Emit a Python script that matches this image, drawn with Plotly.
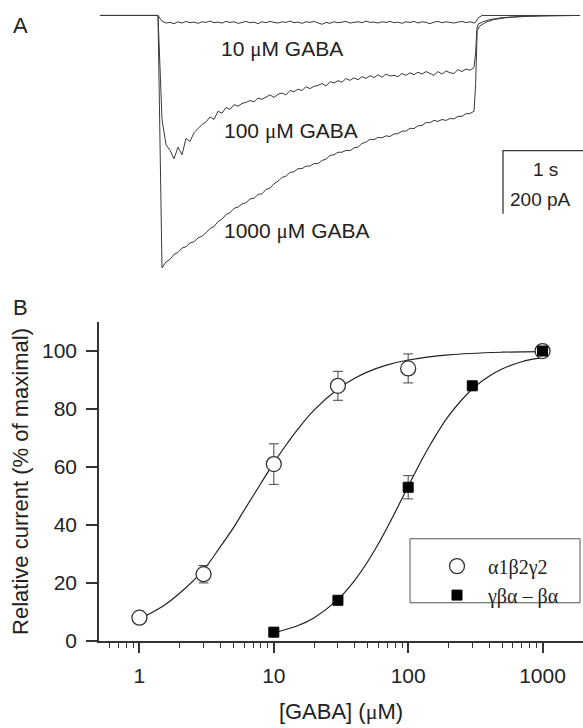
import plotly.graph_objects as go
import math

W, H = 583, 728

# ---------------- Panel A : current traces (time in s, current in pA) ----------------
dt = 0.05
pre_t = [-0.725, -0.45, -0.2]
pre_i = [0, 0, 0]

i10 = [0, -18, -24, -22, -26, -20, -24, -19, -23, -21, -25, -20, -22, -18, -23, -21, -24, -19, -22, -20,
       -25, -22, -19, -23, -21, -26, -20, -23, -19, -22, -24, -20, -22, -18, -23, -21, -25, -20, -22, -19,
       -24, -28, -22, -25, -20, -23, -21, -19, -24, -22, -20, -23, -18, -22, -21, -24, -20, -22, -19, -23,
       -21, -25, -20, -22, -19, -24, -20, -22, -26, -21, -19, -23, -20, -22, -24, -21, -19, -23, -20, -24]
i100 = [0, -330, -410, -428, -455, -418, -442, -390, -400, -372, -360, -346, -338, -322, -330, -304, -310, -292, -298, -283,
        -288, -279, -276, -270, -274, -262, -266, -258, -252, -260, -250, -246, -252, -238, -242, -234, -238, -226, -232, -225,
        -222, -216, -224, -210, -214, -207, -212, -200, -206, -198, -204, -194, -200, -191, -197, -188, -196, -186, -192, -190,
        -194, -184, -190, -182, -188, -180, -186, -178, -184, -190, -178, -186, -176, -182, -184, -172, -178, -170, -174, -165]
i1000 = [0, -801, -782, -774, -758, -752, -738, -734, -722, -718, -706, -700, -690, -676, -670, -654, -646, -632, -626, -612,
         -608, -598, -594, -582, -580, -568, -566, -552, -548, -534, -526, -514, -510, -498, -496, -486, -486, -478, -478, -470,
         -470, -460, -456, -444, -442, -434, -434, -428, -429, -420, -418, -406, -402, -393, -394, -387, -388, -382, -384, -376,
         -375, -367, -367, -358, -359, -350, -349, -340, -340, -333, -336, -330, -333, -327, -328, -320, -320, -312, -311, -304]

tail10_t = [3.97, 4.0, 4.05, 4.5, 5.0, 5.275]
tail10_i = [-22, -8, 0, 0, 1, 0]
tail100_t = [3.97, 3.985, 4.0, 4.06, 4.15, 4.3, 4.525, 4.775, 5.275]
tail100_i = [-120, -45, -28, -20, -13, -7, -3, -1, 0]
tail1000_t = [3.97, 3.99, 4.02, 4.1, 4.2, 4.35, 4.6, 4.9, 5.275]
tail1000_i = [-220, -48, -34, -21, -13, -7, -3, -1, 0]

trace_labels = ["10 μM GABA", "100 μM GABA", "1000 μM GABA"]
scale_time = 1.0      # s
scale_current = 200   # pA

# ---------------- Panel B : concentration-response ----------------
conc_a = [1, 3, 10, 30, 100, 1000]
resp_a = [8, 23, 61, 88, 94, 100]
err_a = [1, 3, 7, 5, 5, 1]
conc_b = [10, 30, 100, 300, 1000]
resp_b = [3, 14, 53, 88, 100]
err_b = [1, 1, 4, 1, 1]

fit_a_x = [1, 1.5, 2, 3, 4, 5, 6, 7, 8, 10, 12, 15, 20, 30, 40, 50, 70, 100, 200, 500, 1000]
fit_a_y = [7.5, 12, 16.5, 24.5, 32.5, 39, 45, 50, 54.3, 61.4, 66.8, 72.9, 79.7, 86.9, 90.6, 92.8, 95.2, 96.9, 98.7, 99.6, 99.8]
fit_b_x = [10, 15, 20, 30, 40, 50, 60, 70, 80, 100, 120, 150, 200, 300, 400, 500, 700, 1000]
fit_b_y = [2.8, 5.2, 8.0, 14.3, 20.9, 27.4, 33.5, 39.2, 44.4, 53.3, 60.5, 68.6, 77.6, 86.9, 91.3, 93.8, 96.3, 97.8]

name_a = "α1β2γ2"
name_b = "γβα – βα"
x_ticks = [1, 10, 100, 1000]
x_minor = [0.6, 0.7, 0.8, 0.9] + [k * 10 ** e for e in range(0, 3) for k in range(2, 10)]
y_ticks = [0, 20, 40, 60, 80, 100]

SANS = "Liberation Sans, Arial, sans-serif"
SERIF = "Liberation Serif, Times New Roman, serif"
TRACE_COL = "#3a3a3a"


def px2x(p):
    return p / W


def px2y(p):
    return 1 - p / H


fig = go.Figure()

# --- panel A traces
for vals, tt, ti in [(i10, tail10_t, tail10_i), (i100, tail100_t, tail100_i), (i1000, tail1000_t, tail1000_i)]:
    t = pre_t + [round(k * dt, 3) for k in range(len(vals))] + tt
    y = pre_i + vals + ti
    fig.add_trace(go.Scatter(x=t, y=y, mode="lines", line=dict(color=TRACE_COL, width=1),
                             xaxis="x2", yaxis="y2", showlegend=False, hoverinfo="skip"))

# scale bar
sb_x0 = 4.3125
sb_y0 = -429
fig.add_trace(go.Scatter(x=[sb_x0 + scale_time, sb_x0, sb_x0], y=[sb_y0, sb_y0, sb_y0 - scale_current],
                         mode="lines", line=dict(color=TRACE_COL, width=1.3),
                         xaxis="x2", yaxis="y2", showlegend=False, hoverinfo="skip"))

# --- panel B fits
fig.add_trace(go.Scatter(x=fit_a_x, y=fit_a_y, mode="lines", line=dict(color="#222", width=1.2, shape="spline"),
                         showlegend=False, hoverinfo="skip", cliponaxis=False))
fig.add_trace(go.Scatter(x=fit_b_x, y=fit_b_y, mode="lines", line=dict(color="#222", width=1.2, shape="spline"),
                         showlegend=False, hoverinfo="skip", cliponaxis=False))

# --- panel B points
fig.add_trace(go.Scatter(x=conc_a, y=resp_a, mode="markers", name=name_a,
                         error_y=dict(type="data", array=err_a, color="#444", thickness=1, width=5),
                         marker=dict(symbol="circle", size=15, color="white", line=dict(color="#333", width=1.3)),
                         cliponaxis=False))
fig.add_trace(go.Scatter(x=conc_b, y=resp_b, mode="markers", name=name_b,
                         error_y=dict(type="data", array=err_b, color="#444", thickness=1, width=5),
                         marker=dict(symbol="square", size=10, color="black", line=dict(color="black", width=1)),
                         cliponaxis=False))

annotations = []
# trace labels
for lab, ypix, xpix in zip(trace_labels, [50, 133, 235], [219, 222, 222]):
    annotations.append(dict(text=lab.replace("μ", "<span style='font-family:Liberation Serif'>μ</span>"),
                            x=px2x(xpix), y=px2y(ypix), xref="paper", yref="paper",
                            xanchor="left", yanchor="middle", showarrow=False,
                            font=dict(family=SANS, size=21, color="#222")))
annotations.append(dict(text="1 s", x=px2x(545), y=px2y(172), xref="paper", yref="paper",
                        xanchor="center", yanchor="middle", showarrow=False,
                        font=dict(family=SANS, size=19, color="#222")))
annotations.append(dict(text="200 pA", x=px2x(540), y=px2y(203), xref="paper", yref="paper",
                        xanchor="center", yanchor="middle", showarrow=False,
                        font=dict(family=SANS, size=19, color="#222")))
annotations.append(dict(text="A", x=px2x(20), y=px2y(26), xref="paper", yref="paper",
                        xanchor="center", yanchor="middle", showarrow=False,
                        font=dict(family=SANS, size=22, color="#222")))
annotations.append(dict(text="B", x=px2x(20), y=px2y(312), xref="paper", yref="paper",
                        xanchor="center", yanchor="middle", showarrow=False,
                        font=dict(family=SANS, size=22, color="#222")))

shapes = [dict(type="rect", xref="paper", yref="paper", x0=px2x(410), x1=px2x(580), y0=px2y(612), y1=px2y(547),
               line=dict(color="#555", width=1), fillcolor="rgba(0,0,0,0)", layer="above")]

fig.update_layout(
    width=W, height=H,
    margin=dict(l=0, r=0, t=0, b=0),
    paper_bgcolor="white", plot_bgcolor="white",
    font=dict(family=SANS, size=21, color="#222"),
    xaxis=dict(type="log", domain=[px2x(99), 1.0], range=[math.log10(0.5), math.log10(2000)],
               showline=True, linecolor="#333", linewidth=1.5, showgrid=False, zeroline=False,
               tickmode="array", tickvals=x_ticks, ticktext=[str(v) for v in x_ticks],
               ticks="outside", ticklen=10, tickwidth=1.5, tickcolor="#333",
               ticklabelstandoff=5,
               minor=dict(tickmode="array", tickvals=x_minor, ticks="outside", ticklen=5, tickwidth=1.2,
                          tickcolor="#333", showgrid=False),
               tickfont=dict(size=21),
               title=dict(text="[GABA] (<span style='font-family:Liberation Serif'>μ</span>M)",
                          font=dict(size=22), standoff=18)),
    yaxis=dict(domain=[px2y(650.7), px2y(327)], range=[0, 110],
               showline=True, linecolor="#333", linewidth=1.5, showgrid=False, zeroline=False,
               tickmode="array", tickvals=y_ticks, ticks="outside", ticklen=11, tickwidth=1.5, tickcolor="#333",
               ticklabelstandoff=5, tickfont=dict(size=21),
               title=dict(text="Relative current (% of maximal)", font=dict(size=22), standoff=7)),
    xaxis2=dict(domain=[0, 1], range=[(0 - 158) / 80, (583 - 158) / 80], visible=False, anchor="y2"),
    yaxis2=dict(domain=[px2y(290), 1], range=[-(290 - 15.7) * 3.125, 15.7 * 3.125], visible=False, anchor="x2"),
    showlegend=True,
    legend=dict(x=px2x(426), y=px2y(555), xanchor="left", yanchor="top",
                bgcolor="rgba(0,0,0,0)", borderwidth=0, itemwidth=52,
                font=dict(family=SERIF, size=20, color="#222"), tracegroupgap=0),
    annotations=annotations,
    shapes=shapes,
)

fig.write_html("out.html")
